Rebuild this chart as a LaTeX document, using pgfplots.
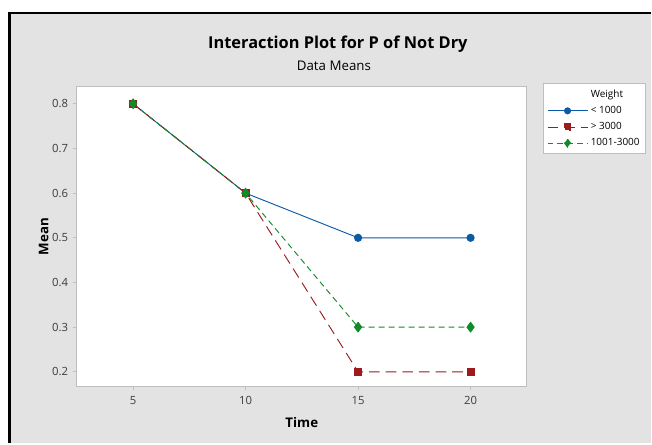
\documentclass[border=0pt]{standalone}
\usepackage{pgfplots}
\pgfplotsset{compat=1.18}
\usepackage{fontspec}
\setmainfont{Open Sans}

\definecolor{panelgray}{RGB}{227,227,227}
\definecolor{framegray}{RGB}{190,190,190}
\definecolor{ticktext}{RGB}{60,60,60}
\definecolor{lowblue}{RGB}{11,90,168}
\definecolor{highred}{RGB}{155,27,30}
\definecolor{midgreen}{RGB}{17,138,42}

\begin{document}
\begin{tikzpicture}
% page and outer panel
\fill[white] (0,0) rectangle (489pt,333pt);
\fill[panelgray] (6.5pt,0) rectangle (489pt,323.6pt);
\draw[black,line width=2.2pt] (7.4pt,0) -- (7.4pt,323.2pt) -- (489pt,323.2pt);

% titles
\node[font=\bfseries\fontsize{12.3}{14}\selectfont] at (254pt,299.5pt) {Interaction Plot for P of Not Dry};
\node[font=\fontsize{10}{12}\selectfont] at (251pt,283.5pt) {Data Means};

\begin{axis}[
  at={(57.75pt,42.75pt)}, anchor=south west,
  width=338.25pt, height=225pt, scale only axis,
  xmin=2.5, xmax=22.5, ymin=0.168, ymax=0.838,
  xtick={5,10,15,20},
  ytick={0.2,0.3,0.4,0.5,0.6,0.7,0.8},
  yticklabel style={/pgf/number format/.cd,fixed,precision=1,fixed zerofill},
  /pgf/number format/assume math mode=true,
  axis background/.style={fill=white},
  axis line style={framegray, line width=0.8pt},
  tick style={framegray, line width=0.6pt},
  tick align=outside, major tick length=3pt,
  xtick pos=bottom, ytick pos=left,
  tick label style={font=\fontsize{8.5}{10}\selectfont, text=ticktext},
  xticklabel style={yshift=-1pt},
  xlabel={\textbf{Time}}, ylabel={\textbf{Mean}},
  label style={font=\fontsize{10}{12}\selectfont},
  xlabel style={yshift=-3pt},
  ylabel style={yshift=-4pt},
  legend style={at={(1,1)}, anchor=north west, xshift=12.5pt, yshift=2.5pt,
    draw=framegray, fill=white, font=\fontsize{7.5}{9}\selectfont,
    row sep=1.2pt, inner sep=2.5pt},
  legend cell align=left,
  legend image code/.code={
    \draw[mark repeat=2,mark phase=2, mark options={scale=0.85}]
      plot coordinates {(0cm,0cm) (0.53cm,0cm) (1.06cm,0cm)};
  },
]
\addlegendimage{empty legend}
\addlegendentry{Weight}

% weight below 1000
\addplot[lowblue, line width=0.7pt, mark=*, mark size=2.7pt,
  mark options={solid, fill=lowblue}]
  coordinates {(5,0.8) (10,0.6) (15,0.5) (20,0.5)};
\addlegendentry{< 1000}

% weight above 3000
\addplot[highred, line width=0.7pt, dash pattern=on 8pt off 4.5pt,
  mark=square*, mark size=2.7pt, mark options={solid, fill=highred}]
  coordinates {(5,0.8) (10,0.6) (15,0.2) (20,0.2)};
\addlegendentry{> 3000}

% weight 1001-3000
\addplot[midgreen, line width=0.7pt, dash pattern=on 4.5pt off 3pt,
  mark=diamond*, mark size=3.6pt, mark options={solid, fill=midgreen}]
  coordinates {(5,0.8) (10,0.6) (15,0.3) (20,0.3)};
\addlegendentry{1001-3000}
\end{axis}
\end{tikzpicture}
\end{document}
